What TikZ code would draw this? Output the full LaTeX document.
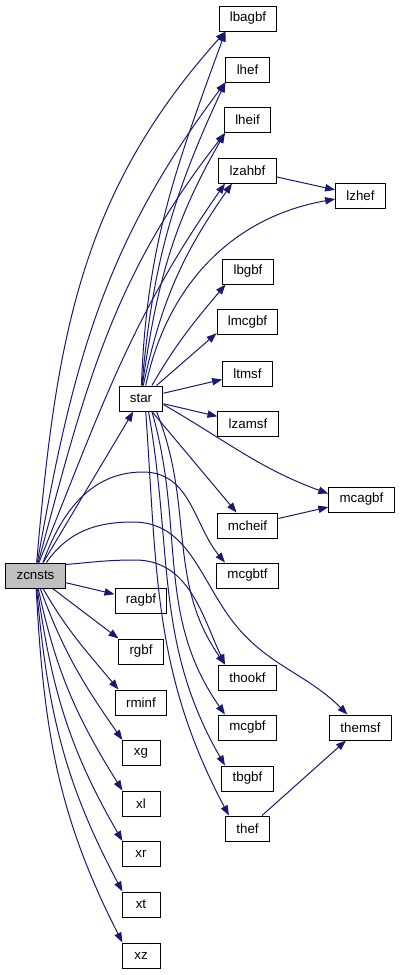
\documentclass[tikz,border=0pt]{standalone}
\usepackage{fontspec}
\setmainfont{Liberation Sans}
\usetikzlibrary{arrows.meta}
\definecolor{txt}{HTML}{000000}
\definecolor{edg}{HTML}{191970}
\definecolor{boxB}{HTML}{000000}
\definecolor{rootF}{HTML}{BFBFBF}

\begin{document}
\begin{tikzpicture}[
  x=0.75pt,y=0.75pt,
  font=\fontsize{10}{12}\selectfont,text=txt,
  >={Triangle[length=7.5pt,width=5.5pt]},
  fn/.style={draw=boxB,fill=white,line width=0.75pt,inner xsep=8.1pt,inner ysep=0pt,
             minimum width=28.5pt,minimum height=18.75pt},
  root/.style={fn,fill=rootF},
  call/.style={->,draw=edg,line width=0.75pt},
  ]
\useasboundingbox (0,0) rectangle (400,-975);

% ================= caller + middle column =================
\node[root] (zcnsts) at (35.5,-575.5) {zcnsts};
\node[fn] (star)  at (141,-398.5) {star};
\node[fn] (ragbf) at (141,-600.5) {ragbf};
\node[fn] (rgbf)  at (141,-651.5) {rgbf};
\node[fn] (rminf) at (141,-702.5) {rminf};
\node[fn] (xg)    at (141,-753)   {xg};
\node[fn] (xl)    at (141,-803.5) {xl};
\node[fn] (xr)    at (141,-854)   {xr};
\node[fn] (xt)    at (141,-904.5) {xt};
\node[fn] (xz)    at (141,-955.5) {xz};

% ================= right column =================
\node[fn] (lbagbf) at (248,-18.5)    {lbagbf};
\node[fn] (lhef)   at (247.5,-69.5)  {lhef};
\node[fn] (lheif)  at (247.5,-120)   {lheif};
\node[fn] (lzahbf) at (247.5,-170.5) {lzahbf};
\node[fn] (lbgbf)  at (248,-271.5)   {lbgbf};
\node[fn] (lmcgbf) at (247.5,-322)   {lmcgbf};
\node[fn] (ltmsf)  at (247.5,-373.5) {ltmsf};
\node[fn] (lzamsf) at (248,-423.5)   {lzamsf};
\node[fn] (mcheif) at (247.5,-525.5) {mcheif};
\node[fn] (mcgbtf) at (247.5,-575.5) {mcgbtf};
\node[fn] (thookf) at (247.5,-677.5) {thookf};
\node[fn] (mcgbf)  at (247.5,-727.5) {mcgbf};
\node[fn] (tbgbf)  at (247.5,-778.5) {tbgbf};
\node[fn] (thef)   at (247.5,-828.5) {thef};

% ---- far right ----
\node[fn] (lzhef)  at (360.5,-195.5) {lzhef};
\node[fn] (mcagbf) at (361.5,-499.5) {mcagbf};
\node[fn] (themsf) at (360.5,-727.5) {themsf};

% ================= zcnsts calls =================
\draw[call] (zcnsts.85) to[out=85,in=-132] (lbagbf.-150);
\draw[call] (zcnsts.82) to[out=80,in=-127] (lhef.-150);
\draw[call] (zcnsts.78) to[out=75,in=-128] (lheif.-150);
\draw[call] (zcnsts.75) to[out=68,in=-125] (lzahbf.-150);
\draw[call] (zcnsts) -- (star);
% ---- arches over the gap below star ----
\draw[call] (zcnsts.60) to[out=70,in=180] (143,-472) to[out=0,in=130] (mcgbtf.150);
\draw[call] (zcnsts.50) to[out=55,in=180] (133,-522) to[out=0,in=125] (228,-615)
  to[out=-55,in=135] (themsf.135);
\draw[call] (zcnsts.20) to[out=5,in=180] (135,-560) to[out=0,in=115] (thookf.150);
% ---- fan below ----
\draw[call] (zcnsts) -- (ragbf);
\draw[call] (zcnsts) -- (rgbf.150);
\draw[call] (zcnsts) to[out=-60,in=130] (rminf.150);
\foreach \n/\o/\i in {xg/-70/125,xl/-78/122,xr/-82/120,xt/-85/118,xz/-87/117}
  {\draw[call] (zcnsts) to[out=\o,in=\i] (\n.145);}

% ================= star calls =================
\draw[call] (star.88) to[out=88,in=-110] (lbagbf.-150);
\draw[call] (star.86) to[out=85,in=-115] (lhef.-150);
\draw[call] (star.84) to[out=82,in=-120] (lheif.-150);
\draw[call] (star.80) to[out=78,in=-125] (lzahbf.-140);
\draw[call] (star.70) to[out=78,in=190] (lzhef.188);
\draw[call] (star.50) to[out=60,in=-130] (lbgbf.-150);
\draw[call] (star.40) -- (lmcgbf.-160);
\draw[call] (star) -- (ltmsf);
\draw[call] (star) -- (lzamsf);
\draw[call] (star.-15) to[out=-30,in=160] (mcagbf.170);
\draw[call] (star) -- (mcheif);
\draw[call] (star.-40) to[out=-68,in=125] (thookf.150);
\draw[call] (star.-50) to[out=-74,in=125] (mcgbf.150);
\draw[call] (star.-60) to[out=-80,in=120] (tbgbf.150);
\draw[call] (star.-70) to[out=-86,in=118] (thef.145);

% ---- third level ----
\draw[call] (lzahbf) -- (lzhef);
\draw[call] (mcheif) -- (mcagbf);
\draw[call] (thef) -- (themsf);

\end{tikzpicture}
\end{document}
